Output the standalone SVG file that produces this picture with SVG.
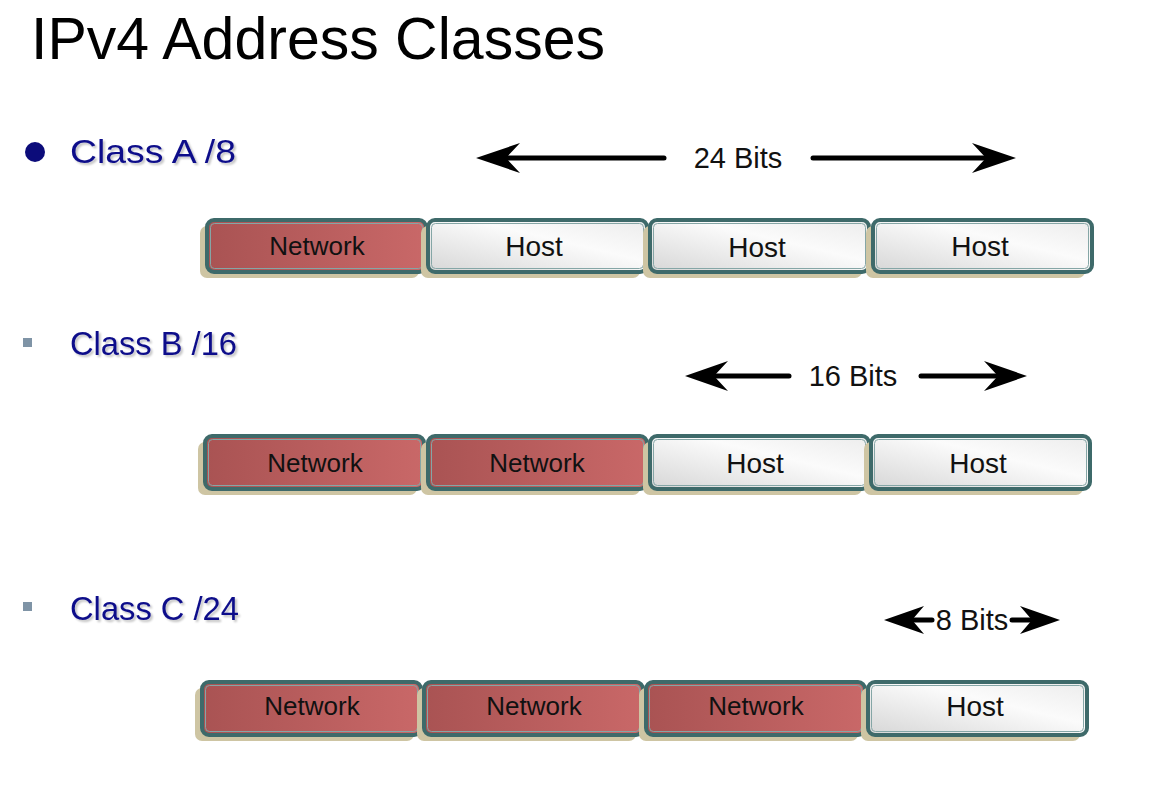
<svg xmlns="http://www.w3.org/2000/svg" width="1152" height="803" viewBox="0 0 1152 803">
<defs>
<linearGradient id="gNet" x1="0" y1="0" x2="1" y2="0">
<stop offset="0" stop-color="#a95353"/>
<stop offset="1" stop-color="#c96868"/>
</linearGradient>
<linearGradient id="gHost" x1="0" y1="1" x2="1" y2="0">
<stop offset="0" stop-color="#d6d6d6"/>
<stop offset="0.6" stop-color="#fbfbfb"/>
<stop offset="1" stop-color="#ececec"/>
</linearGradient>
<filter id="ts" x="-5%" y="-20%" width="110%" height="140%">
<feGaussianBlur in="SourceAlpha" stdDeviation="1"/>
<feOffset dx="1.5" dy="1.5"/>
<feComponentTransfer><feFuncA type="linear" slope="0.25"/></feComponentTransfer>
<feMerge><feMergeNode/><feMergeNode in="SourceGraphic"/></feMerge>
</filter>
</defs>
<style>
.title{font-family:"Liberation Sans",Arial,sans-serif;font-size:59px;fill:#000}
.cls{font-family:"Liberation Sans",Arial,sans-serif;font-size:34px;fill:#0c0c8a}
.lbl{font-family:"Liberation Sans",Arial,sans-serif;font-size:26px;fill:#111;text-anchor:middle}
.lh{font-size:28px}
.bits{font-family:"Liberation Sans",Arial,sans-serif;font-size:29px;fill:#111;text-anchor:middle}
.shadow{fill:#cec5a3}
.outer{stroke:#3e6a6a;stroke-width:4}
.inner{fill:none;stroke:#85a6a6;stroke-width:1}
.net{fill:url(#gNet)}
.host{fill:url(#gHost)}
.ln{stroke:#000;stroke-width:5;stroke-linecap:round;fill:none}
.hd{fill:#000}
</style>
<rect width="1152" height="803" fill="#fff"/>
<text class="title" x="31" y="59" textLength="574" lengthAdjust="spacingAndGlyphs">IPv4 Address Classes</text>

<g id="classA-label">
<circle cx="35" cy="152" r="10" fill="#0c0c7a"/>
<text class="cls" x="70" y="163" textLength="166" lengthAdjust="spacingAndGlyphs" filter="url(#ts)">Class A /8</text>
</g>
<g id="classB-label">
<rect x="23" y="338" width="9" height="9" fill="#7f94a6"/>
<text class="cls" x="70" y="355" textLength="167" lengthAdjust="spacingAndGlyphs" filter="url(#ts)">Class B /16</text>
</g>
<g id="classC-label">
<rect x="23" y="602" width="9" height="9" fill="#7f94a6"/>
<text class="cls" x="70" y="620" textLength="169" lengthAdjust="spacingAndGlyphs" filter="url(#ts)">Class C /24</text>
</g>

<g id="rowA">
<g id="A1"><rect class="shadow" x="200" y="226" width="219" height="52" rx="7"/><rect class="outer net" x="207" y="220" width="219" height="52" rx="7"/><rect class="inner" x="210.5" y="223.5" width="212" height="45" rx="4"/><text class="lbl" x="317" y="255">Network</text></g>
<g id="A2"><rect class="shadow" x="421" y="226" width="219" height="52" rx="7"/><rect class="outer host" x="428" y="220" width="219" height="52" rx="7"/><rect class="inner" x="431.5" y="223.5" width="212" height="45" rx="4"/><text class="lbl lh" x="534" y="256">Host</text></g>
<g id="A3"><rect class="shadow" x="643" y="226" width="219" height="52" rx="7"/><rect class="outer host" x="650" y="220" width="219" height="52" rx="7"/><rect class="inner" x="653.5" y="223.5" width="212" height="45" rx="4"/><text class="lbl lh" x="757" y="257">Host</text></g>
<g id="A4"><rect class="shadow" x="866" y="226" width="219" height="52" rx="7"/><rect class="outer host" x="873" y="220" width="219" height="52" rx="7"/><rect class="inner" x="876.5" y="223.5" width="212" height="45" rx="4"/><text class="lbl lh" x="980" y="256">Host</text></g>
</g>

<g id="rowB">
<g id="B1"><rect class="shadow" x="198" y="442" width="219" height="53" rx="7"/><rect class="outer net" x="205" y="436" width="219" height="53" rx="7"/><rect class="inner" x="208.5" y="439.5" width="212" height="46" rx="4"/><text class="lbl" x="315" y="472">Network</text></g>
<g id="B2"><rect class="shadow" x="421" y="442" width="219" height="53" rx="7"/><rect class="outer net" x="428" y="436" width="219" height="53" rx="7"/><rect class="inner" x="431.5" y="439.5" width="212" height="46" rx="4"/><text class="lbl" x="537" y="472">Network</text></g>
<g id="B3"><rect class="shadow" x="643" y="442" width="219" height="53" rx="7"/><rect class="outer host" x="650" y="436" width="219" height="53" rx="7"/><rect class="inner" x="653.5" y="439.5" width="212" height="46" rx="4"/><text class="lbl lh" x="755" y="473">Host</text></g>
<g id="B4"><rect class="shadow" x="864" y="442" width="219" height="53" rx="7"/><rect class="outer host" x="871" y="436" width="219" height="53" rx="7"/><rect class="inner" x="874.5" y="439.5" width="212" height="46" rx="4"/><text class="lbl lh" x="978" y="473">Host</text></g>
</g>

<g id="rowC">
<g id="C1"><rect class="shadow" x="195" y="688" width="219" height="53" rx="7"/><rect class="outer net" x="202" y="682" width="219" height="53" rx="7"/><rect class="inner" x="205.5" y="685.5" width="212" height="46" rx="4"/><text class="lbl" x="312" y="715">Network</text></g>
<g id="C2"><rect class="shadow" x="417" y="688" width="219" height="53" rx="7"/><rect class="outer net" x="424" y="682" width="219" height="53" rx="7"/><rect class="inner" x="427.5" y="685.5" width="212" height="46" rx="4"/><text class="lbl" x="534" y="715">Network</text></g>
<g id="C3"><rect class="shadow" x="639" y="688" width="219" height="53" rx="7"/><rect class="outer net" x="646" y="682" width="219" height="53" rx="7"/><rect class="inner" x="649.5" y="685.5" width="212" height="46" rx="4"/><text class="lbl" x="756" y="715">Network</text></g>
<g id="C4"><rect class="shadow" x="861" y="688" width="219" height="53" rx="7"/><rect class="outer host" x="868" y="682" width="219" height="53" rx="7"/><rect class="inner" x="871.5" y="685.5" width="212" height="46" rx="4"/><text class="lbl lh" x="975" y="716">Host</text></g>
</g>

<g id="connectors">
<g id="bits24">
<line class="ln" x1="505" y1="158" x2="664" y2="158"/>
<path class="hd" d="M476,158 L520,143 L506,158 L520,173 Z"/>
<line class="ln" x1="813" y1="158" x2="985" y2="158"/>
<path class="hd" d="M1016,158 L972,143 L986,158 L972,173 Z"/>
<text class="bits" x="738" y="168">24 Bits</text>
</g>
<g id="bits16">
<line class="ln" x1="712" y1="376" x2="789" y2="376"/>
<path class="hd" d="M685,376 L728,361 L714,376 L728,391 Z"/>
<line class="ln" x1="921" y1="376" x2="998" y2="376"/>
<path class="hd" d="M1027,376 L984,361 L998,376 L984,391 Z"/>
<text class="bits" x="853" y="386">16 Bits</text>
</g>
<g id="bits8">
<line class="ln" x1="910" y1="620" x2="932" y2="620"/>
<path class="hd" d="M884,620 L924,606 L912,620 L924,634 Z"/>
<line class="ln" x1="1012" y1="620" x2="1034" y2="620"/>
<path class="hd" d="M1060,620 L1020,606 L1032,620 L1020,634 Z"/>
<text class="bits" x="972" y="630">8 Bits</text>
</g>
</g>
</svg>
